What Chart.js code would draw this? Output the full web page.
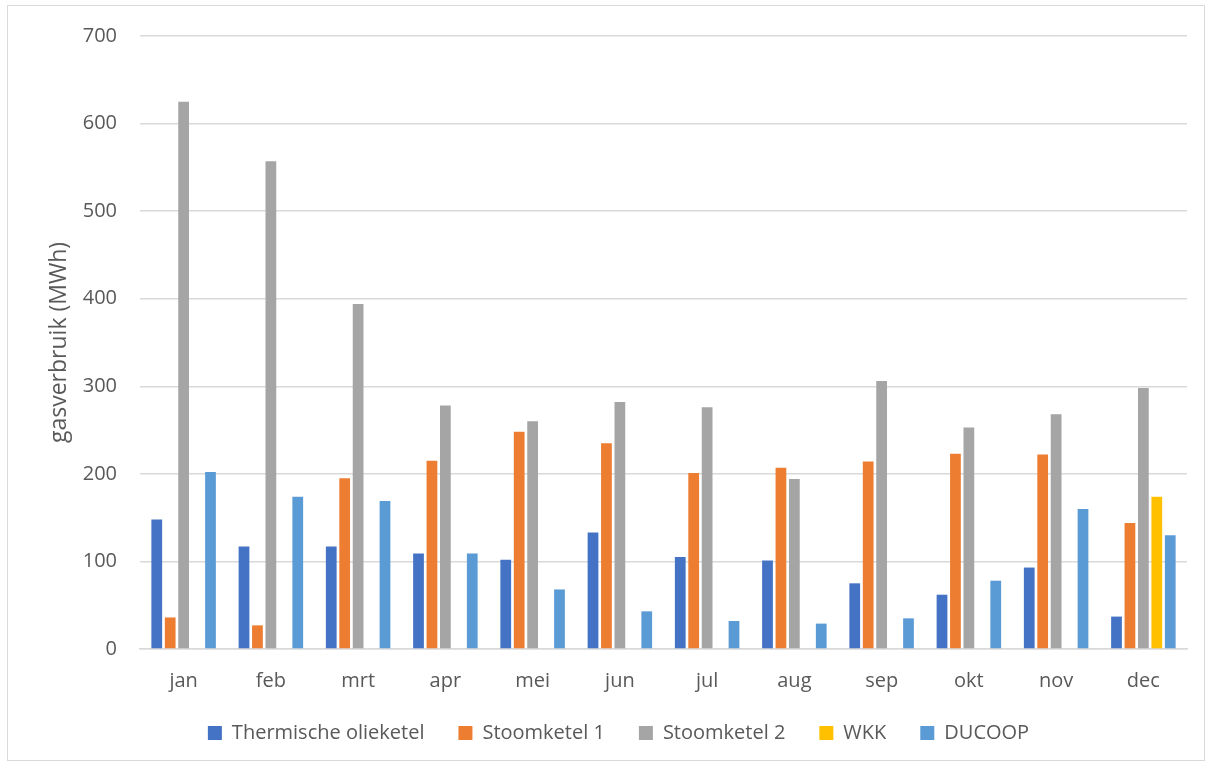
<!DOCTYPE html>
<html>
<head>
<meta charset="utf-8">
<script src="https://cdn.jsdelivr.net/npm/chart.js@4.4.1/dist/chart.umd.min.js"></script>
<style>
  html, body { margin: 0; padding: 0; background: #ffffff; }
  #wrap { position: absolute; left: 0; top: 0; width: 1213px; height: 767px; }
  #frame { position: absolute; left: 7px; top: 5px; width: 1198px; height: 756px; border: 1px solid #d9d9d9; box-sizing: border-box; pointer-events: none; }
</style>
</head>
<body>
<div id="wrap">
  <canvas id="c" width="1213" height="767"></canvas>
  <div id="frame"></div>
</div>
<script>
const categories = ['jan', 'feb', 'mrt', 'apr', 'mei', 'jun', 'jul', 'aug', 'sep', 'okt', 'nov', 'dec'];
const thermischeOlieketel = [148, 117, 117, 109, 102, 133, 105, 101, 75, 62, 93, 37];
const stoomketel1 = [36, 27, 195, 215, 248, 235, 201, 207, 214, 223, 222, 144];
const stoomketel2 = [625, 557, 394, 278, 260, 282, 276, 194, 306, 253, 268, 298];
const wkk = [0, 0, 0, 0, 0, 0, 0, 0, 0, 0, 0, 174];
const ducoop = [202, 174, 169, 109, 68, 43, 32, 29, 35, 78, 160, 130];
const yTicks = [0, 100, 200, 300, 400, 500, 600, 700];
const seriesNames = ['Thermische olieketel', 'Stoomketel 1', 'Stoomketel 2', 'WKK', 'DUCOOP'];

const colors = ['#4472C4', '#ED7D31', '#A5A5A5', '#FFC000', '#5B9BD5'];
const seriesData = [thermischeOlieketel, stoomketel1, stoomketel2, wkk, ducoop];
const textColor = '#595959';
const fontFamily = '"Open Sans", "DejaVu Sans", sans-serif';

// nudges the legend block to the reference position after layout
const legendNudge = {
  id: 'legendNudge',
  beforeDraw(chart) {
    const lg = chart.legend;
    if (!lg || lg._nudged) return;
    lg.top -= 6; lg.bottom -= 6;
    lg.left += 21; lg.right += 21;
    lg._nudged = true;
  },
  afterLayout(chart) { if (chart.legend) chart.legend._nudged = false; }
};

new Chart(document.getElementById('c'), {
  type: 'bar',
  data: {
    labels: categories,
    datasets: seriesNames.map((name, i) => ({
      label: name,
      data: seriesData[i],
      backgroundColor: colors[i],
      borderWidth: 0,
      categoryPercentage: 0.77,
      barPercentage: 0.8
    }))
  },
  plugins: [legendNudge],
  options: {
    responsive: false,
    animation: false,
    devicePixelRatio: 1,
    layout: { padding: { left: 8, right: 26, top: 36, bottom: 8 } },
    plugins: {
      legend: {
        position: 'bottom',
        labels: {
          color: textColor,
          font: { family: fontFamily, size: 20 },
          boxWidth: 14,
          boxHeight: 14,
          padding: 34
        }
      },
      tooltip: { enabled: false }
    },
    scales: {
      x: {
        grid: { display: false, drawTicks: false },
        border: { color: '#d9d9d9', width: 1.5 },
        ticks: { color: textColor, font: { family: fontFamily, size: 20 }, padding: 20 },
        afterFit: (s) => { s.height = 46; }
      },
      y: {
        min: 0,
        max: 700,
        afterBuildTicks: (s) => { s.ticks = yTicks.map(v => ({ value: v })); },
        grid: { color: '#d9d9d9', lineWidth: 1.5, drawTicks: false },
        border: { display: false },
        ticks: { color: textColor, font: { family: fontFamily, size: 20 }, padding: 23 },
        title: {
          display: true,
          text: 'gasverbruik (MWh)',
          color: textColor,
          font: { family: fontFamily, size: 23 },
          padding: { top: 38, bottom: 0 }
        },
        afterFit: (s) => { s.width = 132; }
      }
    }
  }
});
</script>
</body>
</html>
